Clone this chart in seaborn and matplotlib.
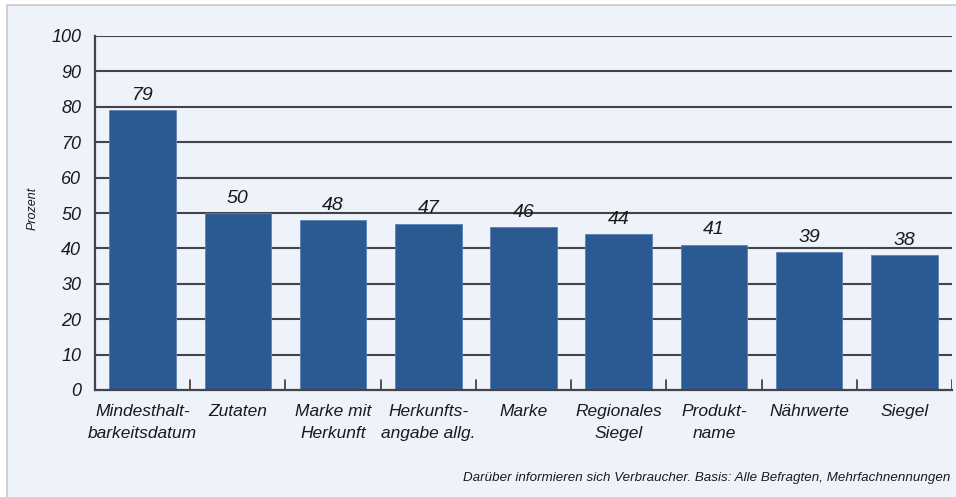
import matplotlib
matplotlib.use("Agg")
import matplotlib.pyplot as plt
import seaborn as sns
import pandas as pd
from matplotlib.patches import Rectangle

categories = ["Mindesthalt-\nbarkeitsdatum", "Zutaten", "Marke mit\nHerkunft",
              "Herkunfts-\nangabe allg.", "Marke", "Regionales\nSiegel",
              "Produkt-\nname", "Nährwerte", "Siegel"]
values = [79, 50, 48, 47, 46, 44, 41, 39, 38]
yticks = [0, 10, 20, 30, 40, 50, 60, 70, 80, 90, 100]
ylabel = "Prozent"
caption = "Darüber informieren sich Verbraucher. Basis: Alle Befragten, Mehrfachnennungen"

sns.set_style("white")
plt.rcParams['font.family'] = ['Liberation Sans', 'DejaVu Sans']

bg = "#eef2fa"
txt = "#1a1a1a"
fig = plt.figure(figsize=(9.56, 4.97), dpi=100, facecolor="white")
fig.patches.append(Rectangle((7/956, -0.01), 1, 1.01 - 5/497, transform=fig.transFigure,
                             facecolor=bg, edgecolor="#c8c8c8", linewidth=1.2, zorder=-10))
ax = fig.add_axes([95/956, 107/497, 857/956, 354/497])
ax.set_facecolor("none")

df = pd.DataFrame({"cat": categories, "val": values})
sns.barplot(data=df, x="cat", y="val", color="#2b5a93", saturation=1, width=0.7,
            ax=ax, zorder=3, edgecolor="#5b82b3", linewidth=0.6)

ax.set_ylim(0, 100)
ax.set_xlim(-0.5, len(categories) - 0.5)
ax.set_yticks(yticks)
ax.set_yticklabels([str(t) for t in yticks], fontsize=13, fontstyle="italic",
                   color=txt)
for t in yticks[1:]:
    ax.axhline(t, color="#444444", linewidth=1.5, zorder=1)

ax.tick_params(axis="y", length=0, pad=10)
ax.set_xticks(range(len(categories)))
ax.set_xticklabels(categories, fontsize=12.5, fontstyle="italic", color=txt,
                   linespacing=1.6)
ax.tick_params(axis="x", length=0, pad=10)
for i in range(len(categories)):
    ax.axvline(i + 0.5, ymin=0, ymax=10/354, color="#444444", linewidth=1.3, zorder=1)

for s in ["top", "right"]:
    ax.spines[s].set_visible(False)
for s in ["left", "bottom"]:
    ax.spines[s].set_color("#444444")
    ax.spines[s].set_linewidth(1.6)
    ax.spines[s].set_zorder(4)

for i, v in enumerate(values):
    ax.text(i, v + 1.8, str(v), ha="center", va="bottom", fontsize=14,
            fontstyle="italic", color=txt)

ax.set_xlabel("")
ax.set_ylabel("")
fig.text(33/956, 1 - 208/497, ylabel, rotation=90, ha="center", va="center",
         fontsize=9, fontstyle="italic", color=txt)
fig.text(950/956, 1 - 478/497, caption, ha="right", va="center",
         fontsize=9.6, fontstyle="italic", color=txt)

fig.savefig("out.png", dpi=100, facecolor=fig.get_facecolor())
